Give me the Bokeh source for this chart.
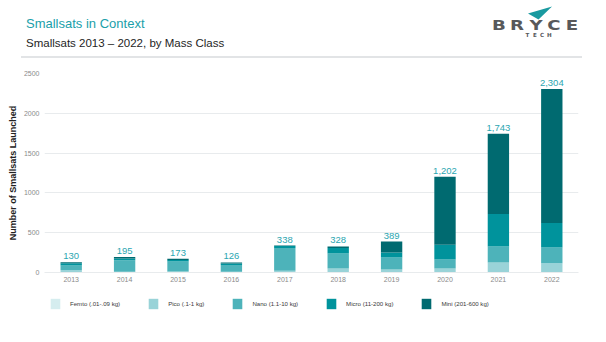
from bokeh.plotting import figure
from bokeh.layouts import column
from bokeh.models import (ColumnDataSource, Range1d, Div, Legend, LegendItem, FixedTicker, FactorRange)
from bokeh.core.properties import value
from bokeh.embed import file_html
from bokeh.resources import INLINE

# ---------------- data ----------------
years = ["2013", "2014", "2015", "2016", "2017", "2018", "2019", "2020", "2021", "2022"]
femto = [2, 2, 3, 2, 3, 5, 2, 2, 2, 3]
pico = [30, 8, 10, 8, 18, 45, 36, 48, 124, 112]
nano = [55, 145, 125, 84, 286, 190, 150, 114, 202, 200]
micro = [30, 20, 20, 20, 26, 68, 62, 185, 407, 307]
mini = [13, 20, 15, 12, 5, 20, 139, 853, 1008, 1682]
classes = ["Femto (.01-.09 kg)", "Pico (.1-1 kg)", "Nano (1.1-10 kg)", "Micro (11-200 kg)", "Mini (201-600 kg)"]
y_ticks = [0, 500, 1000, 1500, 2000, 2500]
title = "Smallsats in Context"
subtitle = "Smallsats 2013 – 2022, by Mass Class"

colors = ["#d5edef", "#99d3d8", "#4db3ba", "#00939c", "#006a70"]
FONT = "Liberation Sans"
W = 606
HEAD_H = 65
MAIN_H = 225
LEG_H = 342 - HEAD_H - MAIN_H

totals = [a + b + c + d + e for a, b, c, d, e in zip(femto, pico, nano, micro, mini)]
src = ColumnDataSource(dict(year=years, femto=femto, pico=pico, nano=nano, micro=micro, mini=mini,
                            total=totals, label=[f"{t:,}" for t in totals]))
stackers = ["femto", "pico", "nano", "micro", "mini"]


# ---------------- header (title + logo) as HTML ----------------
def abs_text(txt, left, top, size, color, font=FONT, weight="normal", width=None, align="left",
             extra=""):
    w = f"width:{width}px;" if width else ""
    return (f'<div style="position:absolute;left:{left}px;top:{top}px;{w}text-align:{align};'
            f'font-family:\'{font}\';font-size:{size}px;line-height:1;color:{color};'
            f'font-weight:{weight};white-space:nowrap;{extra}">{txt}</div>')


parts = [abs_text(title, 26, 16.7, 13, "#1aa0aa"),
         abs_text(subtitle, 26, 38.0, 11.5, "#1e1e1e"),
         '<div style="position:absolute;left:21px;top:56.3px;width:561px;height:1.5px;background:#e2e4e6;"></div>']
for ch, cx in zip("BRYCE", [498.7, 517.1, 535.5, 553.9, 572.3]):
    parts.append(abs_text(ch, cx - 10, 18.4, 14.2, "#58595b", font="DejaVu Sans", weight="bold",
                          width=20, align="center",
                          extra="transform:scaleX(1.28);transform-origin:50% 50%;"))
for ch, cx in zip("TECH", [527.5, 534.8, 542.1, 549.4]):
    parts.append(abs_text(ch, cx - 5, 33.0, 5.6, "#58595b", font="DejaVu Sans", weight="bold",
                          width=10, align="center"))
parts.append('<svg style="position:absolute;left:0;top:0;" width="606" height="65">'
             '<polygon points="528,13.5 552,6.5 538.5,19.5" fill="#1a9aa0"/></svg>')
header = Div(text=f'<div style="position:relative;width:{W}px;height:{HEAD_H}px;">' + "".join(parts) + "</div>",
             width=W, height=HEAD_H, margin=0)

# ---------------- main chart ----------------
p = figure(x_range=years, y_range=Range1d(0, 2500), width=W, height=MAIN_H,
           output_backend="svg", toolbar_location=None,
           min_border_left=44, min_border_right=28, min_border_top=73 - HEAD_H,
           min_border_bottom=18)
p.x_range.range_padding = 0
p.outline_line_color = None

p.vbar_stack(stackers, x="year", width=0.4, color=colors, line_color=None, source=src)

p.text(x="year", y="total", text="label", source=src, text_align="center",
       text_baseline="bottom", y_offset=-3, text_font_size="9.5px",
       text_color="#2ba6b1", text_font=value(FONT))

p.yaxis.ticker = FixedTicker(ticks=y_ticks)
p.yaxis.axis_line_color = None
p.yaxis.major_tick_line_color = None
p.yaxis.minor_tick_line_color = None
p.yaxis.major_tick_out = 0
p.yaxis.major_tick_in = 0
p.yaxis.major_label_text_font_size = "7px"
p.yaxis.major_label_text_color = "#8a8a8a"
p.yaxis.major_label_text_font = FONT
p.yaxis.major_label_standoff = 5
p.yaxis.axis_label = "Number of Smallsats Launched"
p.yaxis.axis_label_text_font = FONT
p.yaxis.axis_label_text_font_size = "9px"
p.yaxis.axis_label_text_font_style = "bold"
p.yaxis.axis_label_text_color = "#222222"
p.yaxis.axis_label_standoff = 3

p.xaxis.axis_line_color = "#e8ebed"
p.xaxis.major_tick_line_color = None
p.xaxis.minor_tick_line_color = None
p.xaxis.major_tick_out = 0
p.xaxis.major_tick_in = 0
p.xaxis.major_label_text_font_size = "7px"
p.xaxis.major_label_text_color = "#8a8a8a"
p.xaxis.major_label_text_font = FONT
p.xaxis.major_label_standoff = 4

p.xgrid.grid_line_color = None
p.ygrid.grid_line_color = "#e8ebed"
p.ygrid.grid_line_width = 1

# ---------------- legend strip (same stack, kept out of view) ----------------
lf = figure(width=W, height=LEG_H, x_range=FactorRange(*years), y_range=Range1d(1e6, 2e6),
            output_backend="svg", toolbar_location=None, x_axis_location=None,
            y_axis_location=None, min_border=0)
lf.outline_line_color = None
lf.xgrid.visible = False
lf.ygrid.visible = False
swatches = lf.vbar_stack(stackers, x="year", width=0.4, color=colors, line_color=None, source=src)
items = [LegendItem(label=c, renderers=[r]) for c, r in zip(classes, swatches)]
legend = Legend(items=items, orientation="horizontal", location=(5, LEG_H - 20),
                glyph_width=12, glyph_height=13, label_height=13, label_standoff=9,
                spacing=27, padding=0, margin=0, label_text_font_size="6.1px",
                label_text_color="#3a3a3a", label_text_font=FONT,
                border_line_color=None, background_fill_alpha=0)
lf.add_layout(legend)

open("out.html", "w").write(file_html(column(header, p, lf, spacing=0), INLINE))
